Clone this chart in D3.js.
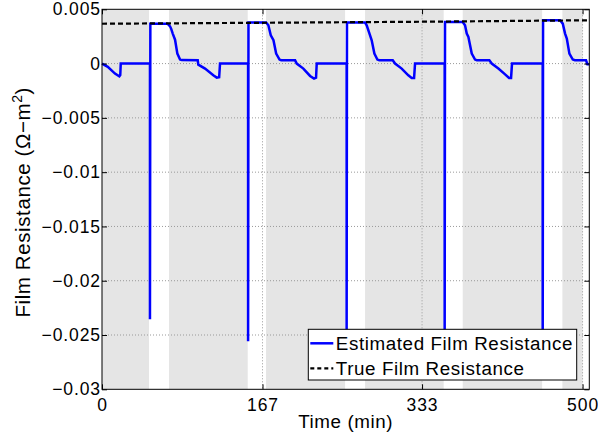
<!DOCTYPE html>
<html>
<head>
<meta charset="utf-8">
<script src="https://cdn.jsdelivr.net/npm/d3@7"></script>
<style>
	body { margin: 0; background: #fff; }
	text { font-family: "Liberation Sans", Arial, sans-serif; fill: #000; }
	.tick text { font-size: 17.5px; letter-spacing: 0.9px; }
</style>
</head>
<body>
<div id="chart"></div>
<script>

// Estimated film resistance: [time (min), value]
var estimated = [
	[0, 0], [6, -0.0003], [13.5, -0.00092], [18, -0.00117], [19, -0.00105], [19.5, 0], [49.9, 0],
	[49.9, -0.02355], [50.3, 0.00368], [67.9, 0.00368], [69, 0.0036], [70.8, 0.00343], [72, 0.0032], [73.6, 0.00276],
	[76, 0.0022], [78.4, 0.00092], [81.2, 0.00037], [83, 0.00032], [99.6, 0.0003], [100.2, -0.0001],
	[107.2, -0.00046], [115.8, -0.00108], [119.4, -0.00129], [121.9, -0.00125], [122.8, 0], [152, 0],
	[152, -0.02557], [152.4, 0.00378], [170.7, 0.00378], [173.1, 0.00353], [175.6, 0.00261], [178.4, 0.00215],
	[181.2, 0.00092], [184.7, 0.00037], [186.5, 0.00031], [200.9, 0.0003], [202.6, 0], [209.5, -0.00046],
	[216.5, -0.00114], [220.6, -0.00138], [222.7, -0.0013], [223.4, 0], [254.5, 0],
	[254.5, -0.0268], [254.9, 0.00378], [273.7, 0.00378], [275.4, 0.00353], [278.9, 0.0026], [280.6, 0.00215],
	[283.4, 0.00092], [286.5, 0.00037], [288.5, 0.00031], [302.5, 0.0003], [304.9, 0], [311.8, -0.00046],
	[318.7, -0.00108], [322.2, -0.00132], [324.7, -0.00132], [325.7, 0], [356.5, 0],
	[356.5, -0.0271], [356.9, 0.00383], [375.3, 0.00383], [377.7, 0.00353], [379.5, 0.00276], [381.2, 0.00245],
	[384.7, 0.00092], [388.1, 0.00037], [390, 0.00031], [403, 0.0003], [405.5, 0], [412.4, -0.00046],
	[419.4, -0.00099], [423.5, -0.00132], [425.6, -0.00132], [426.6, 0], [458.5, 0],
	[458.5, -0.0274], [458.9, 0.00399], [476.6, 0.00399], [479.4, 0.00368], [481.8, 0.00276], [483.6, 0.0023],
	[486.3, 0.00092], [489.8, 0.00037], [492, 0.00031], [503.6, 0.0003], [505, -0.00006], [507, -0.00006]
];

// True film resistance (dashed)
var trueRes = [[0, 0.00367], [170, 0.00376], [340, 0.00386], [507, 0.00399]];

// Grey shaded periods (start, end in min)
var bandStart = [0, 69.7, 170.7, 273.7, 375.3, 479];
var bandEnd = [48.9, 151.6, 252.9, 355.5, 457.9, 500];

var xTicks = [0, 167, 333, 500];
var yTicks = [0.005, 0, -0.005, -0.01, -0.015, -0.02, -0.025, -0.03];
var yTickLabels = ["0.005", "0", "\u22120.005", "\u22120.01", "\u22120.015", "\u22120.02", "\u22120.025", "\u22120.03"];

var seriesNames = ["Estimated Film Resistance", "True Film Resistance"];

var margin = {top: 9.3, right: 8.7, bottom: 48.7, left: 102};
var width = 598 - margin.left - margin.right,
	height = 438 - margin.top - margin.bottom;

var svg = d3.select("#chart").append("svg")
	.attr("width", 598)
	.attr("height", 438)
	.append("g")
	.attr("transform", "translate(" + margin.left + "," + margin.top + ")");

var x = d3.scaleLinear().domain([0, 507]).range([0, width]);
var y = d3.scaleLinear().domain([-0.03, 0.005]).range([height, 0]);

// background bands
svg.selectAll(".band")
	.data(bandStart)
	.enter().append("rect")
	.attr("class", "band")
	.attr("x", function(d) { return x(d); })
	.attr("y", 0)
	.attr("width", function(d, i) { return x(bandEnd[i]) - x(d); })
	.attr("height", height)
	.style("fill", "#e5e5e5");

// dotted grid
svg.selectAll(".xgrid")
	.data(xTicks.slice(1))
	.enter().append("line")
	.attr("x1", function(d) { return x(d); })
	.attr("x2", function(d) { return x(d); })
	.attr("y1", 0)
	.attr("y2", height)
	.style("stroke", "#999")
	.style("stroke-width", 1)
	.style("stroke-dasharray", "1,2");

svg.selectAll(".ygrid")
	.data(yTicks.slice(1, -1))
	.enter().append("line")
	.attr("x1", 0)
	.attr("x2", width)
	.attr("y1", function(d) { return y(d); })
	.attr("y2", function(d) { return y(d); })
	.style("stroke", "#999")
	.style("stroke-width", 1)
	.style("stroke-dasharray", "1,2");

// lines
var line = d3.line()
	.x(function(d) { return x(d[0]); })
	.y(function(d) { return y(d[1]); });

svg.append("path")
	.datum(estimated)
	.attr("d", line)
	.style("fill", "none")
	.style("stroke", "#0000ff")
	.style("stroke-width", 2.5);

svg.append("path")
	.datum(trueRes)
	.attr("d", line)
	.style("fill", "none")
	.style("stroke", "#000")
	.style("stroke-width", 2.2)
	.style("stroke-dasharray", "5,3");

// axes (ticks inward, box on)
var xAxis = d3.axisBottom(x).tickValues(xTicks).tickSizeInner(-5).tickSizeOuter(0).tickPadding(9);
var yAxis = d3.axisLeft(y).tickValues(yTicks).tickSizeInner(-5).tickSizeOuter(0).tickPadding(1)
	.tickFormat(function(d, i) { return yTickLabels[i]; });

svg.append("g")
	.attr("class", "x-axis axis")
	.attr("transform", "translate(0," + height + ")")
	.call(xAxis);

svg.append("g")
	.attr("class", "y-axis axis")
	.call(yAxis);

svg.append("g")
	.call(d3.axisTop(x).tickValues(xTicks).tickSizeInner(-5).tickSizeOuter(0).tickFormat(""));

svg.append("g")
	.attr("transform", "translate(" + width + ",0)")
	.call(d3.axisRight(y).tickValues(yTicks).tickSizeInner(-5).tickSizeOuter(0).tickFormat(""));

svg.selectAll(".domain").remove();
svg.selectAll(".tick line").style("stroke", "#000");

svg.append("rect")
	.attr("width", width)
	.attr("height", height)
	.style("fill", "none")
	.style("stroke", "#000")
	.style("stroke-width", 1);

// axis titles
svg.append("text")
	.attr("x", width / 2)
	.attr("y", height + 39)
	.style("text-anchor", "middle")
	.style("font-size", "18.8px")
	.style("letter-spacing", "0.6px")
	.text("Time (min)");

var yTitle = svg.append("text")
	.attr("transform", "translate(" + (29.5 - margin.left) + "," + (height / 2 + 3) + ") rotate(-90)")
	.style("text-anchor", "middle")
	.style("font-size", "20.5px")
	.style("letter-spacing", "0.6px");
yTitle.append("tspan").text("Film Resistance (\u03a9\u2212m");
yTitle.append("tspan").attr("dy", "-8").style("font-size", "14px").text("2");
yTitle.append("tspan").attr("dy", "8").text(")");

// legend
var legend = svg.append("g")
	.attr("transform", "translate(" + (308.3 - margin.left) + "," + (329.3 - margin.top) + ")");

legend.append("rect")
	.attr("width", 268.4)
	.attr("height", 50.7)
	.style("fill", "#fff")
	.style("stroke", "#000")
	.style("stroke-width", 1);

legend.selectAll(".leg-line")
	.data(seriesNames)
	.enter().append("line")
	.attr("x1", 2)
	.attr("x2", 25)
	.attr("y1", function(d, i) { return 14 + i * 25; })
	.attr("y2", function(d, i) { return 14 + i * 25; })
	.style("stroke", function(d, i) { return i == 0 ? "#0000ff" : "#000"; })
	.style("stroke-width", function(d, i) { return i == 0 ? 2.5 : 2.2; })
	.style("stroke-dasharray", function(d, i) { return i == 0 ? null : "4,3"; });

legend.selectAll(".leg-text")
	.data(seriesNames)
	.enter().append("text")
	.attr("x", 27.5)
	.attr("y", function(d, i) { return 14 + i * 25; })
	.attr("dy", "0.36em")
	.style("font-size", "18.8px")
	.style("letter-spacing", "0.6px")
	.text(function(d) { return d; });

</script>
</body>
</html>
